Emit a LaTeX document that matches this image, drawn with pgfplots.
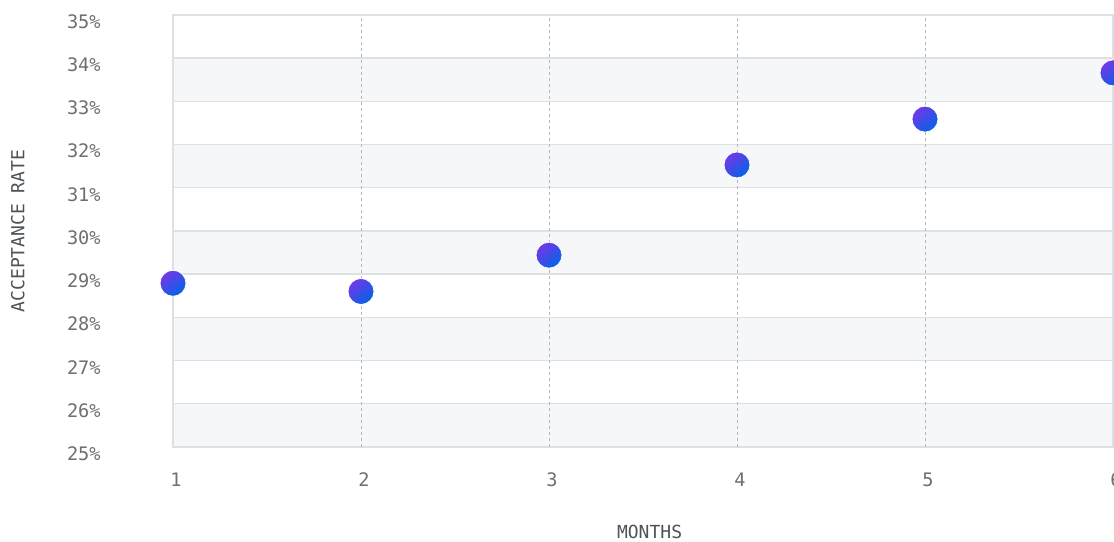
\documentclass[border=0pt]{standalone}
\usepackage{pgfplots}
\pgfplotsset{compat=1.18}
\usepackage{fontspec}
\setmainfont{DejaVu Sans Mono}
\definecolor{gridc}{HTML}{DDE1E6}
\definecolor{bandc}{HTML}{F6F7F9}
\definecolor{vgrid}{HTML}{B0B6BE}
\definecolor{tickc}{HTML}{6F6F6F}
\definecolor{labc}{HTML}{4D5358}
\definecolor{dotA}{RGB}{114,56,230}
\definecolor{dotB}{RGB}{4,98,232}
\begin{document}
\begin{tikzpicture}[x=1pt,y=1pt]
\begin{axis}[
  set layers=standard,
  at={(86.5pt,47pt)}, anchor=south west,
  scale only axis, width=470pt, height=216pt,
  xmin=1, xmax=6, ymin=25, ymax=35,
  xtick={1,2,3,4,5,6}, xticklabels={1,2,3,4,5,6},
  ytick={25,26,27,28,29,30,31,32,33,34,35},
  yticklabels={25\%,26\%,27\%,28\%,29\%,30\%,31\%,32\%,33\%,34\%,35\%},
  major tick length=0pt,
  axis line style={draw=gridc, line width=0.7pt},
  ymajorgrids, major grid style={draw=gridc, line width=0.7pt},
  clip=false,
  ticklabel style={font=\fontsize{9.3}{10}\selectfont, text=tickc},
  yticklabel style={anchor=east, inner sep=0pt, xshift=-36pt, yshift=-3.3pt},
  xticklabel style={anchor=center, inner sep=0pt, yshift=-16.5pt, xshift=1.5pt},
  xlabel={MONTHS},
  xlabel style={at={(axis description cs:0.507,0)}, anchor=north, inner sep=0pt, yshift=-39pt, font=\fontsize{9}{10}\selectfont, text=labc},
  ylabel={ACCEPTANCE RATE},
  ylabel style={at={(axis description cs:-0.1574,0.5)}, anchor=south, inner sep=0pt, font=\fontsize{9}{10}\selectfont, text=labc},
]
\begin{pgfonlayer}{axis background}
\fill[bandc] (axis cs:1,25) rectangle (axis cs:6,26);
\fill[bandc] (axis cs:1,27) rectangle (axis cs:6,28);
\fill[bandc] (axis cs:1,29) rectangle (axis cs:6,30);
\fill[bandc] (axis cs:1,31) rectangle (axis cs:6,32);
\fill[bandc] (axis cs:1,33) rectangle (axis cs:6,34);
\end{pgfonlayer}
\draw[vgrid, line width=0.5pt, dash pattern=on 1.5pt off 1.5pt] (axis cs:2,25) -- (axis cs:2,35);
\draw[vgrid, line width=0.5pt, dash pattern=on 1.5pt off 1.5pt] (axis cs:3,25) -- (axis cs:3,35);
\draw[vgrid, line width=0.5pt, dash pattern=on 1.5pt off 1.5pt] (axis cs:4,25) -- (axis cs:4,35);
\draw[vgrid, line width=0.5pt, dash pattern=on 1.5pt off 1.5pt] (axis cs:5,25) -- (axis cs:5,35);
\addplot[only marks, mark=none, nodes near coords={},
  every node near coord/.style={anchor=center, circle, inner sep=0pt, minimum size=13pt,
    draw=white, line width=0.4pt, top color=dotA, bottom color=dotB, shading angle=40}]
  coordinates {
  (1,28.79) (2,28.60) (3,29.44) (4,31.53) (5,32.59) (6,33.66)
};
\end{axis}
\pgfresetboundingbox
\useasboundingbox (0,0) rectangle (557,270.5);
\end{tikzpicture}
\end{document}
